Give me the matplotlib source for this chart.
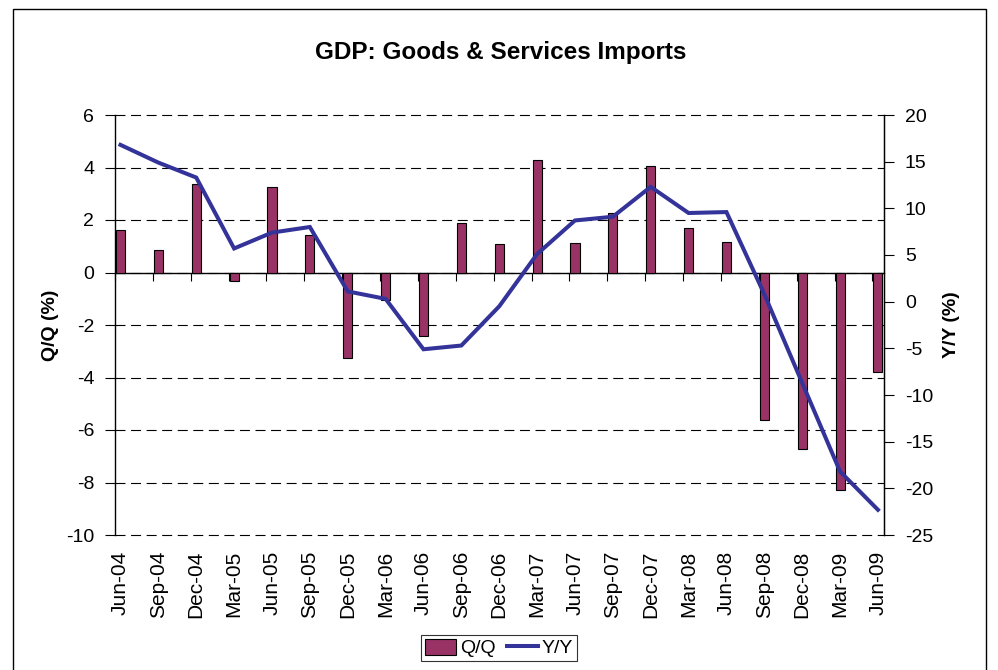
import numpy as np
import matplotlib
matplotlib.use("Agg")
import matplotlib.pyplot as plt
from matplotlib.patches import Rectangle

plt.rcParams['font.family'] = ['Liberation Sans', 'DejaVu Sans']
plt.rcParams['axes.unicode_minus'] = False

quarters = ["Jun-04", "Sep-04", "Dec-04", "Mar-05", "Jun-05", "Sep-05", "Dec-05",
            "Mar-06", "Jun-06", "Sep-06", "Dec-06", "Mar-07", "Jun-07", "Sep-07",
            "Dec-07", "Mar-08", "Jun-08", "Sep-08", "Dec-08", "Mar-09", "Jun-09"]
qq = [1.63, 0.85, 3.39, -0.34, 3.25, 1.44, -3.24, -1.04, -2.40, 1.88, 1.07,
      4.28, 1.12, 2.27, 4.06, 1.71, 1.17, -5.63, -6.73, -8.28, -3.78]
yy = [16.8, 14.9, 13.3, 5.7, 7.4, 8.0, 1.1, 0.3, -5.1, -4.7, -0.5,
      5.1, 8.7, 9.1, 12.3, 9.5, 9.6, 0.8, -8.7, -18.2, -22.3]

bar_col = "#993366"
line_col = "#333399"
x = np.arange(len(quarters))
shift = 0.145  # excel puts the tick marks a bit left of the bars

fig = plt.figure(figsize=(9.98, 6.7), dpi=100)
ax = fig.add_axes([115/998, 1 - 535/670, 769/998, 420/670])

ax.bar(x, qq, width=0.24, color=bar_col, edgecolor="black", linewidth=0.8,
       zorder=3, label="Q/Q")
ax.set_xlim(-shift, 20.16)
ax.set_ylim(-10, 6)
ax.set_yticks(np.arange(-10, 7, 2))
ax.yaxis.grid(True, color="black", linestyle=(0, (9, 5)), linewidth=0.8)
for gl in ax.get_ygridlines():
    gl.set_clip_on(False)
ax.set_axisbelow(True)
ax.tick_params(axis="y", direction="out", length=7, width=0.8, labelsize=14, pad=8)
ax.set_ylabel("Q/Q (%)", fontsize=14, fontweight="bold", labelpad=5)

# category axis crossing at zero
ax.spines["top"].set_visible(False)
ax.spines["bottom"].set_position(("data", 0))
ax.spines["bottom"].set_linewidth(1.0)
ax.spines["left"].set_linewidth(1.0)
ax.set_xticks(x - shift)
ax.set_xticklabels([])
ax.tick_params(axis="x", direction="out", length=6, width=0.8, color="black")

sec = ax.secondary_xaxis("bottom")
sec.set_xticks(x)
sec.set_xticklabels(quarters, rotation=90, fontsize=15)
sec.tick_params(length=0, pad=11)
sec.spines["bottom"].set_visible(False)

ax2 = ax.twinx()
ax2.plot(x, yy, color=line_col, linewidth=2.9, solid_joinstyle="miter", zorder=4, label="Y/Y")
ax2.set_ylim(-25, 20)
ax2.set_yticks(np.arange(-25, 21, 5))
ax2.tick_params(axis="y", direction="out", length=7, width=0.8, labelsize=14, pad=8)
ax2.set_ylabel("Y/Y (%)", fontsize=14, fontweight="bold", rotation=90, labelpad=7)
ax2.spines["top"].set_visible(False)
ax2.spines["bottom"].set_visible(False)
ax2.spines["left"].set_visible(False)
ax2.spines["right"].set_linewidth(1.0)

fig.text(501/998, 1 - 53/670, "GDP: Goods & Services Imports", ha="center", va="center",
         fontsize=17.5, fontweight="bold")

h1, l1 = ax.get_legend_handles_labels()
h2, l2 = ax2.get_legend_handles_labels()
leg = fig.legend(h1 + h2, l1 + l2, loc="center", bbox_to_anchor=(499/998, 1 - 648/670),
                 ncol=2, fontsize=14, frameon=True, fancybox=False, handlelength=1.6,
                 handleheight=0.9, handletextpad=0.2, columnspacing=0.6, borderpad=0.2,
                 borderaxespad=0)
leg.get_frame().set_edgecolor("black")
leg.get_frame().set_linewidth(0.8)

fig.patches.append(Rectangle((13/998, -0.01), (986 - 13)/998, 1.01 - 9/670,
                             transform=fig.transFigure, fill=False,
                             edgecolor="black", linewidth=1.0))

plt.savefig("out.png", dpi=100)
